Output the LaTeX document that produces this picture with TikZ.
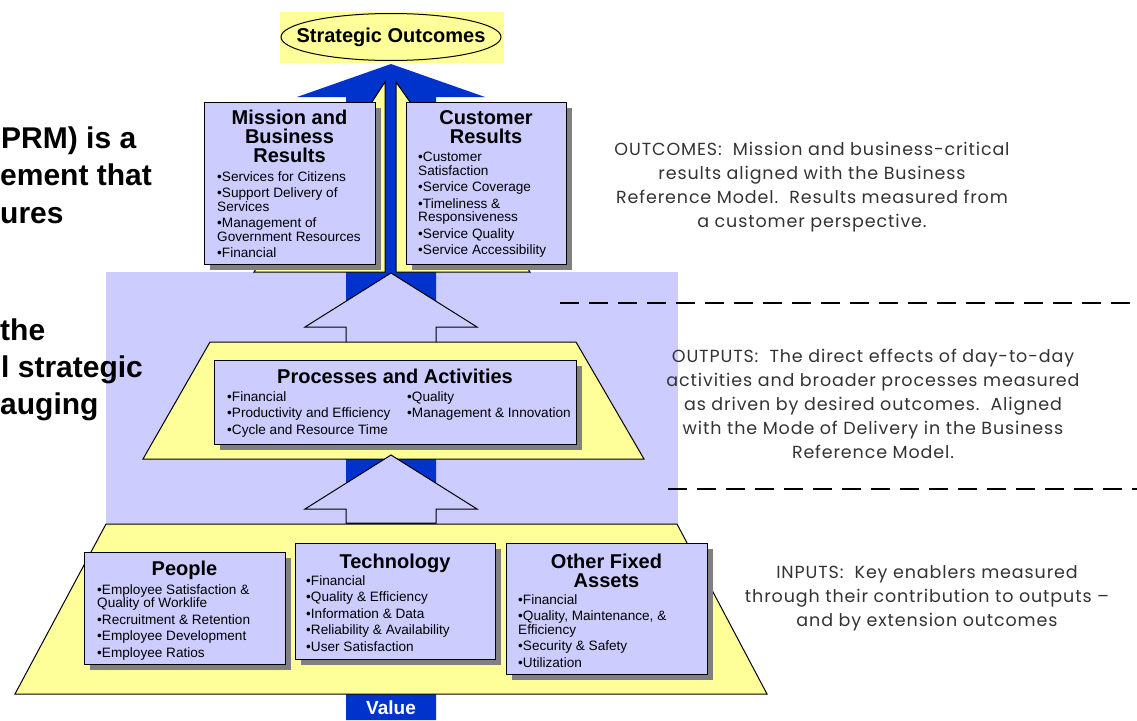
\documentclass[tikz,border=0pt]{standalone}
\usepackage{fontspec}
\setmainfont{Liberation Sans}
\newfontfamily\gothicfont[LetterSpace=5]{Poppins}
\usetikzlibrary{shapes.geometric,shadows}
\definecolor{lavender}{RGB}{204,204,255}
\definecolor{lemon}{RGB}{255,255,153}
\definecolor{royal}{RGB}{0,51,204}
\begin{document}
\begin{tikzpicture}
[x=1pt,y=-1pt,
  boxdecorate/.style={shape=rectangle,anchor=north west,inner sep=0pt,draw,line width=1pt,fill=lavender,%
    drop shadow={shadow xshift=5pt,shadow yshift=-5pt,fill=black!50,opacity=1}},
  headdecorate/.style={anchor=north,inner sep=0pt,align=center,font=\fontsize{20}{19}\selectfont\bfseries},
  itemdecorate/.style={anchor=north west,inner sep=0pt,align=left,font=\fontsize{13.6}{13.5}\selectfont},
  notedecorate/.style={align=center,inner sep=0pt,text=black!80,font=\gothicfont\fontsize{17.5}{24}\selectfont},
  leaddecorate/.style={anchor=base west,inner sep=0pt,font=\fontsize{30}{37}\selectfont\bfseries},
  shapedecorate/.style={draw,line width=1pt,line join=miter},
  dashdecorate/.style={dash pattern=on 19pt off 10pt,line width=2.5pt}]
% backdrop
\useasboundingbox (0,0) rectangle (1137,720);
\fill[white] (0,0) rectangle (1137,720);
\fill[lavender] (106,272) rectangle (678,524);
% value arrow and goal
\fill[royal] (391,64) -- (485,97) -- (436,97) -- (436,720) -- (346,720) -- (346,97) -- (297,97) -- cycle;
\fill[lemon] (280,12) rectangle (504,63);
\node (goal) at (391,37) [ellipse,draw,line width=1pt,fill=lemon,inner sep=0pt,minimum width=220pt,minimum height=47pt] {};
\node [font=\fontsize{20}{20}\selectfont\bfseries] at (goal.center) {Strategic Outcomes};
% risers and platforms
\draw[shapedecorate,fill=lemon] (385,82) -- (385,272) -- (254,272) -- (372,102) -- cycle;
\draw[shapedecorate,fill=lemon] (396,82) -- (396,272) -- (530,272) -- (410,102) -- cycle;
\draw[shapedecorate,fill=lavender] (391,273) -- (477,327) -- (436,327) -- (436,350) -- (346,350) -- (346,327) -- (305,327) -- cycle;
\draw[shapedecorate,fill=lemon] (210,342) -- (576,342) -- (644,459) -- (143,459) -- cycle;
\draw[shapedecorate,fill=lavender] (391,455) -- (477,509) -- (436,509) -- (436,523) -- (346,523) -- (346,509) -- (305,509) -- cycle;
\draw[shapedecorate,fill=lemon] (106,524) -- (677,524) -- (767,694) -- (15,694) -- cycle;
\node (value) at (391,707.5) [fill=royal,inner sep=0pt,minimum width=90pt,minimum height=25pt,text=white,%
  font=\fontsize{19}{19}\selectfont\bfseries] {Value};
% boxes
\node (mission) at (204,102) [boxdecorate,minimum width=171pt,minimum height=162pt] {};
\node (customer) at (406,102) [boxdecorate,minimum width=160pt,minimum height=162pt] {};
\node (process) at (214,360) [boxdecorate,minimum width=362pt,minimum height=84pt] {};
\node (people) at (84,552) [boxdecorate,minimum width=201pt,minimum height=112pt] {};
\node (tech) at (295,543) [boxdecorate,minimum width=200pt,minimum height=116pt] {};
\node (assets) at (506,543) [boxdecorate,minimum width=201pt,minimum height=131pt] {};
% box texts
\node (missionhead) at (289.5,110) [headdecorate] {Mission and\\Business\\Results};
\node (missionlist) at (217,171) [itemdecorate] {•Services for Citizens\\[3pt]•Support Delivery of\\Services\\[3pt]%
  •Management of\\Government Resources\\[3pt]•Financial};
\node (customerhead) at (486,110) [headdecorate] {Customer\\Results};
\node (customerlist) at (418,152) [itemdecorate] {•Customer\\Satisfaction\\[3pt]•Service Coverage\\[3pt]%
  •Timeliness \&\\Responsiveness\\[3pt]•Service Quality\\[3pt]•Service Accessibility};
\node (processhead) at (395,369) [headdecorate] {Processes and Activities};
\node (processlistA) at (227,391) [itemdecorate] {•Financial\\[3pt]•Productivity and Efficiency\\[3pt]•Cycle and Resource Time};
\node (processlistB) at (407,391) [itemdecorate] {•Quality\\[3pt]•Management \& Innovation};
\node (peoplehead) at (184.5,561) [headdecorate] {People};
\node (peoplelist) at (97,584) [itemdecorate] {•Employee Satisfaction \&\\Quality of Worklife\\[3pt]%
  •Recruitment \& Retention\\[3pt]•Employee Development\\[3pt]•Employee Ratios};
\node (techhead) at (395,554) [headdecorate] {Technology};
\node (techlist) at (306,575) [itemdecorate] {•Financial\\[3pt]•Quality \& Efficiency\\[3pt]•Information \& Data\\[3pt]%
  •Reliability \& Availability\\[3pt]•User Satisfaction};
\node (assetshead) at (606.5,554) [headdecorate] {Other Fixed\\Assets};
\node (assetslist) at (518,594) [itemdecorate] {•Financial\\[3pt]•Quality, Maintenance, \&\\Efficiency\\[3pt]%
  •Security \& Safety\\[3pt]•Utilization};
% side notes
\node (outcomes) at (812,187) [notedecorate] {OUTCOMES:\ \ Mission and business-critical\\results aligned with the Business\\%
  Reference Model.\ \ Results measured from\\a customer perspective.};
\node (outputs) at (873,404) [notedecorate] {OUTPUTS:\ \ The direct effects of day-to-day\\activities and broader processes measured\\%
  as driven by desired outcomes.\ \ Aligned\\with the Mode of Delivery in the Business\\Reference Model.};
\node (inputs) at (927,598) [notedecorate] {INPUTS:\ \ Key enablers measured\\through their contribution to outputs –\\and by extension outcomes};
\coordinate (upperA) at (560,303);
\coordinate (upperB) at (1137,303);
\coordinate (lowerA) at (668,489);
\coordinate (lowerB) at (1137,489);
\draw[dashdecorate] (upperA) -- (upperB);
\draw[dashdecorate] (lowerA) -- (lowerB);
% cut-off lead text
\node (leadA) at (1,148) [leaddecorate] {PRM) is a};
\node (leadB) at (0,185) [leaddecorate] {ement that};
\node (leadC) at (0,223) [leaddecorate] {ures};
\node (leadD) at (0,340) [leaddecorate] {the};
\node (leadE) at (1,377) [leaddecorate] {l strategic};
\node (leadF) at (0,414) [leaddecorate] {auging};
\end{tikzpicture}
\end{document}
